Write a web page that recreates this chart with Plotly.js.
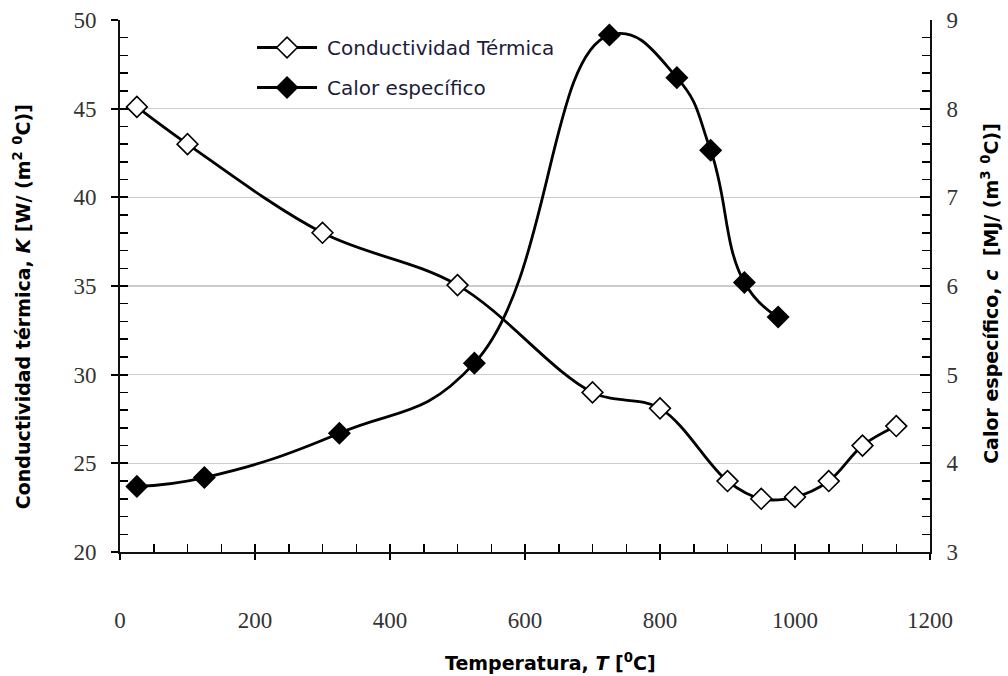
<!DOCTYPE html>
<html>
<head>
<meta charset="utf-8">
<script src="https://cdn.plot.ly/plotly-3.0.1.min.js"></script>
<style>html,body{margin:0;padding:0;background:#fff;}</style>
</head>
<body>
<div id="chart" style="width:1008px;height:676px;"></div>
<script>
// Data
const tempK = [25, 100, 300, 500, 700, 800, 900, 950, 1000, 1050, 1100, 1150];
const conductividad = [45.1, 43.0, 38.0, 35.05, 29.0, 28.1, 24.0, 23.0, 23.1, 24.0, 26.0, 27.1];
const tempC = [25, 125, 325, 525, 725, 825, 875, 925, 975];
const calorEspecifico = [3.74, 3.84, 4.34, 5.13, 8.83, 8.35, 7.53, 6.04, 5.65];
const xTicks = [0, 200, 400, 600, 800, 1000, 1200];
const yLeftTicks = [20, 25, 30, 35, 40, 45, 50];
const yRightTicks = [3, 4, 5, 6, 7, 8, 9];

const tickFont = {family: 'Liberation Serif', size: 23, color: '#333'};
const titleFont = {family: 'DejaVu Sans', size: 19, color: '#000'};

const traces = [
  {
    x: tempK, y: conductividad, name: 'Conductividad Térmica',
    type: 'scatter', mode: 'lines+markers',
    line: {color: '#000', width: 2.8, shape: 'spline', smoothing: 1},
    marker: {symbol: 'diamond', size: 16, color: '#fff', line: {color: '#000', width: 1.6}},
    legendgroup: 'k', xaxis: 'x', yaxis: 'y'
  },
  {
    x: tempC, y: calorEspecifico, name: 'Calor específico',
    type: 'scatter', mode: 'lines+markers',
    line: {color: '#000', width: 2.8, shape: 'spline', smoothing: 1.3},
    marker: {symbol: 'diamond', size: 16, color: '#000', line: {color: '#000', width: 1.6}},
    legendgroup: 'c', xaxis: 'x', yaxis: 'y2'
  },
  {
    x: [], y: [], xaxis: 'x3', yaxis: 'y3', showlegend: false, hoverinfo: 'skip', type: 'scatter', mode: 'lines'
  }
];

const layout = {
  width: 1008, height: 676,
  margin: {l: 120, r: 78, t: 20, b: 124},
  paper_bgcolor: '#fff', plot_bgcolor: '#fff',
  showlegend: true,
  legend: {
    x: 0.163, y: 0.985, xanchor: 'left', yanchor: 'top',
    bgcolor: 'rgba(0,0,0,0)', borderwidth: 0, itemwidth: 65,
    font: {family: 'DejaVu Sans', size: 20, color: '#1c1c3a'},
    traceorder: 'grouped', tracegroupgap: 11
  },
  xaxis: {
    range: [0, 1200], tickmode: 'array', tickvals: xTicks, ticktext: xTicks.map(String),
    ticks: 'outside', ticklen: 6, tickwidth: 2, tickcolor: '#000',
    showline: true, linecolor: '#111', linewidth: 2,
    showgrid: false, zeroline: false, tickfont: tickFont, ticklabelstandoff: 40
  },
  yaxis: {
    range: [20, 50], tickmode: 'array', tickvals: yLeftTicks, ticktext: yLeftTicks.map(String),
    ticks: 'outside', ticklen: 7, tickwidth: 2, tickcolor: '#000',
    showline: true, linecolor: '#111', linewidth: 2,
    showgrid: true, gridcolor: '#cccccc', gridwidth: 1.5,
    zeroline: false, tickfont: tickFont, ticklabelstandoff: 10
  },
  yaxis2: {
    overlaying: 'y', side: 'right', anchor: 'x',
    range: [3, 9], tickmode: 'array', tickvals: yRightTicks, ticktext: yRightTicks.map(String),
    ticks: 'inside', ticklen: 10, tickwidth: 2, tickcolor: '#000',
    minor: {dtick: 0.2, ticks: 'inside', ticklen: 8, tickwidth: 1.5, tickcolor: '#000', showgrid: false},
    showline: true, linecolor: '#111', linewidth: 2,
    showgrid: false, zeroline: false, tickfont: tickFont, ticklabelstandoff: 10
  },
  xaxis3: {
    overlaying: 'x', anchor: 'y3', range: [0, 1200], tick0: 0, dtick: 200,
    ticks: 'inside', ticklen: 8, tickwidth: 2, tickcolor: '#000',
    minor: {dtick: 50, ticks: 'inside', ticklen: 8, tickwidth: 1.5, tickcolor: '#000', showgrid: false},
    showticklabels: false, showline: false, showgrid: false, zeroline: false
  },
  yaxis3: {
    overlaying: 'y', anchor: 'x3', side: 'left', range: [20, 50], tick0: 20, dtick: 5,
    ticks: 'inside', ticklen: 8, tickwidth: 2, tickcolor: '#000',
    minor: {dtick: 1, ticks: 'inside', ticklen: 8, tickwidth: 1.5, tickcolor: '#000', showgrid: false},
    showticklabels: false, showline: false, showgrid: false, zeroline: false
  },
  annotations: [
    {
      text: '<b>Temperatura, <i>T</i> [<sup>0</sup>C]</b>',
      xref: 'paper', yref: 'paper', x: 0.532, y: -0.207, xanchor: 'center', yanchor: 'middle',
      showarrow: false, font: titleFont
    },
    {
      text: '<b>Conductividad térmica, <i>K</i> [W/ (m<sup>2</sup> <sup>0</sup>C)]</b>',
      xref: 'paper', yref: 'paper', x: -0.121, y: 0.462, xanchor: 'center', yanchor: 'middle',
      textangle: -90, showarrow: false, font: titleFont
    },
    {
      text: '<b>Calor específico, <i>c</i>  [MJ/ (m<sup>3</sup> <sup>0</sup>C)]</b>',
      xref: 'paper', yref: 'paper', x: 1.074, y: 0.487, xanchor: 'center', yanchor: 'middle',
      textangle: -90, showarrow: false, font: titleFont
    }
  ]
};

Plotly.newPlot('chart', traces, layout, {displayModeBar: false, staticPlot: true}).then(function (gd) {
  // lengthen legend key lines to match the reference's longer sample lines
  gd.querySelectorAll('.legend .traces').forEach(function (tr) {
    tr.querySelectorAll('.legendlines path').forEach(function (p) { p.setAttribute('d', 'M5,0h60'); });
    tr.querySelectorAll('.legendpoints path').forEach(function (p) { p.setAttribute('transform', 'translate(35,0)'); });
  });
});
</script>
</body>
</html>
